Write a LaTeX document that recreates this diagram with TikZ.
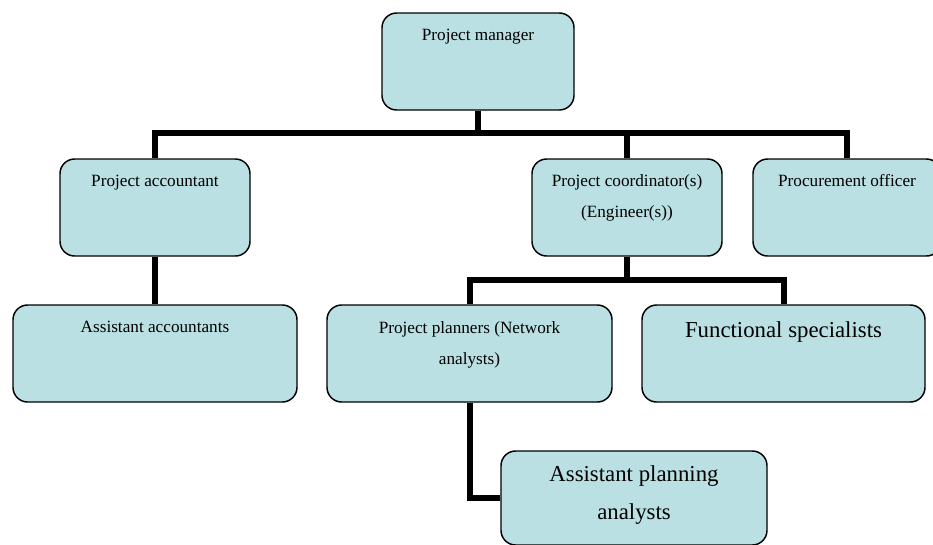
\documentclass[tikz,border=0pt]{standalone}
\usepackage{fontspec}
\setmainfont{Liberation Serif}
\usepackage{xcolor}
\definecolor{boxfill}{RGB}{186,224,227}

\begin{document}
\begin{tikzpicture}[x=0.75pt, y=-0.75pt,
        block/.style={rectangle,rounded corners=11pt,draw,line width=1.1pt,
      black,fill=boxfill,inner sep=0pt,minimum height=72.75pt},
        caption/.style={anchor=base,align=center,text=black,
      font=\fontsize{12.9}{23.5}\selectfont},
        bigcaption/.style={caption,font=\fontsize{17.1}{28}\selectfont},
        link/.style={line width=4.5pt,black,line join=miter}]

	\useasboundingbox (0,0) rectangle (933,544);

	\node [block,minimum width=144pt]    (pm)     at (478,61.5)    {};
        \node [block,minimum width=142.5pt]  (acc)    at (155,207.5)   {};
        \node [block,minimum width=142.5pt]  (coord)  at (627,207.5)   {};
        \node [block,minimum width=141pt]    (proc)   at (847,207.5)   {};
        \node [block,minimum width=213pt]    (asacc)  at (155,353.5)   {};
        \node [block,minimum width=213.75pt] (plan)   at (469.5,353.5) {};
        \node [block,minimum width=212.25pt] (func)   at (783.5,353.5) {};
        \node [block,minimum width=199.5pt,minimum height=70.5pt] (asplan) at (634,498) {};

        \coordinate (topbus) at (478,133);
        \coordinate (midbus) at (627,280);

        \path [link] (pm.south) edge (topbus);
        \draw [link] (acc.north) |- (topbus) -| (proc.north);
        \draw [link] (coord.north) -- (coord.north |- topbus);
        \path [link] (acc.south) edge (asacc.north);
        \path [link] (coord.south) edge (midbus);
        \draw [link] (plan.north) |- (midbus) -| (func.north);
        \draw [link] (plan.south) |- (asplan.west);

        % base of a two-line caption is its last line
        \node [caption] (pmtext)     at ([yshift=-21pt]pm.north)     {Project manager};
        \node [caption] (acctext)    at ([yshift=-21pt]acc.north)    {Project accountant};
        \node [caption] (coordtext)  at ([yshift=-44.5pt]coord.north)  {Project coordinator(s)\\(Engineer(s))};
        \node [caption] (proctext)   at ([yshift=-21pt]proc.north)   {Procurement officer};
        \node [caption] (asacctext)  at ([yshift=-21pt]asacc.north)  {Assistant accountants};
        \node [caption] (plantext)   at ([yshift=-45.5pt]plan.north) {Project planners (Network\\analysts)};
        \node [bigcaption] (functext)   at ([yshift=-24.75pt]func.north)   {Functional specialists};
        \node [bigcaption] (asplantext) at ([yshift=-51.75pt]asplan.north)    {Assistant planning\\analysts};
\end{tikzpicture}
\end{document}
